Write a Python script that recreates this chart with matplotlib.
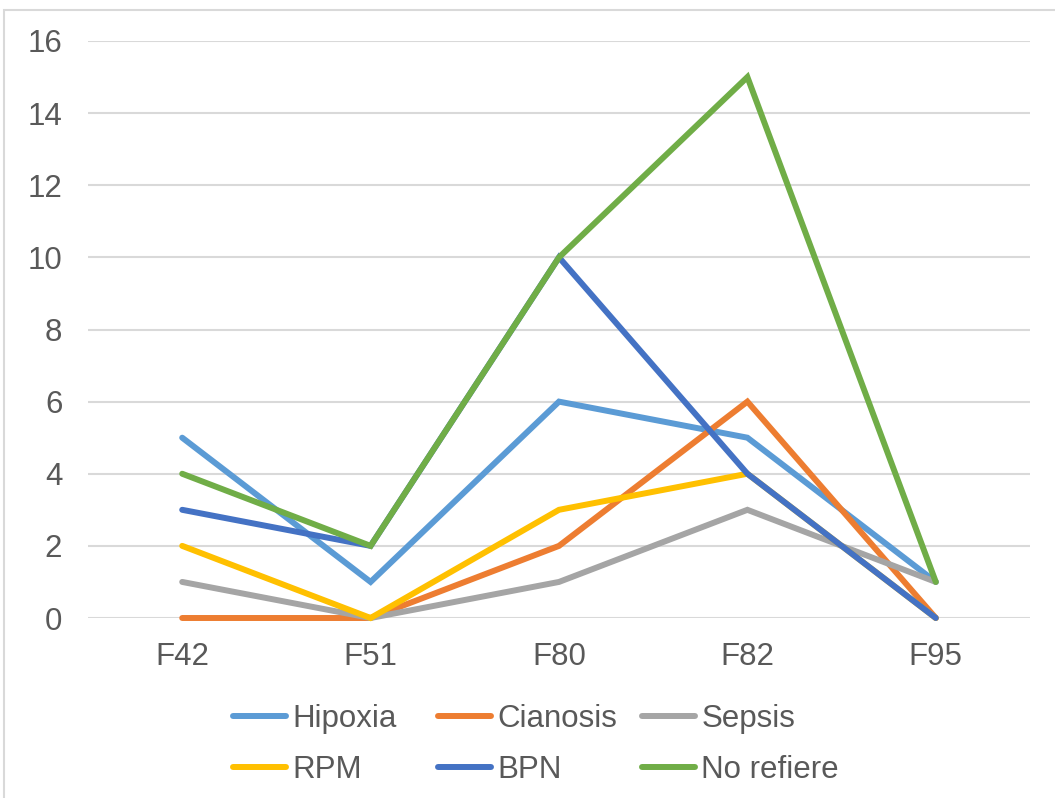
import matplotlib
matplotlib.use("Agg")
import matplotlib.pyplot as plt
from matplotlib.patches import Rectangle
from matplotlib.lines import Line2D

categories = ["F42", "F51", "F80", "F82", "F95"]
hipoxia = [5, 1, 6, 5, 1]
cianosis = [0, 0, 2, 6, 0]
sepsis = [1, 0, 1, 3, 1]
rpm = [2, 0, 3, 4, 0]
bpn = [3, 2, 10, 4, 0]
no_refiere = [4, 2, 10, 15, 1]

series = [
    ("Hipoxia", hipoxia, "#5B9BD5"),
    ("Cianosis", cianosis, "#ED7D31"),
    ("Sepsis", sepsis, "#A5A5A5"),
    ("RPM", rpm, "#FFC000"),
    ("BPN", bpn, "#4472C4"),
    ("No refiere", no_refiere, "#70AD47"),
]

plt.rcParams["font.family"] = ["Liberation Sans", "DejaVu Sans"]
text_color = "#595959"
fs = 22.5
lw = 4.3

W, H = 1055, 798
fig = plt.figure(figsize=(W / 100, H / 100), dpi=100)

# chart-area frame
fig.patches.append(Rectangle((3.5 / W, -0.01), (W - 3) / W + 0.01, (H - 9.5) / H + 0.01,
                             transform=fig.transFigure, fill=False,
                             edgecolor="#D9D9D9", linewidth=1.5))

left, right = 88, 1030
y16, y0 = 41, 618
ax = fig.add_axes([left / W, 1 - y0 / H, (right - left) / W, (y0 - y16) / H])

x = list(range(len(categories)))
for name, vals, color in series:
    ax.plot(x, vals, color=color, linewidth=lw, solid_capstyle="round",
            solid_joinstyle="miter", label=name, zorder=3, clip_on=False)

ax.set_xlim(-0.5, len(categories) - 0.5)
ax.set_ylim(0, 16)
ax.set_yticks(range(0, 17, 2))
ax.set_xticks(x)
ax.set_xticklabels(categories)
ax.grid(axis="y", color="#D9D9D9", linewidth=1.5, zorder=0)
ax.set_axisbelow(True)
for s in ax.spines.values():
    s.set_visible(False)
ax.tick_params(length=0, labelsize=fs, colors=text_color)
ax.tick_params(axis="y", pad=18.5)
ax.tick_params(axis="x", pad=17)

# legend: three equally spaced columns of two entries each
col_x = [233, 438, 642]
rows_top = 704
for c in range(3):
    idx = [c, c + 3]
    hs = [Line2D([0], [0], color=series[i][2], linewidth=lw, solid_capstyle="round")
          for i in idx]
    ls = [series[i][0] for i in idx]
    leg = fig.legend(hs, ls, loc="upper left",
                     bbox_to_anchor=(col_x[c] / W, 1 - rows_top / H),
                     frameon=False, fontsize=fs, labelcolor=text_color,
                     handlelength=1.7, handletextpad=0.2, borderpad=0,
                     borderaxespad=0, labelspacing=0.66)

fig.savefig("out.png", dpi=100)
